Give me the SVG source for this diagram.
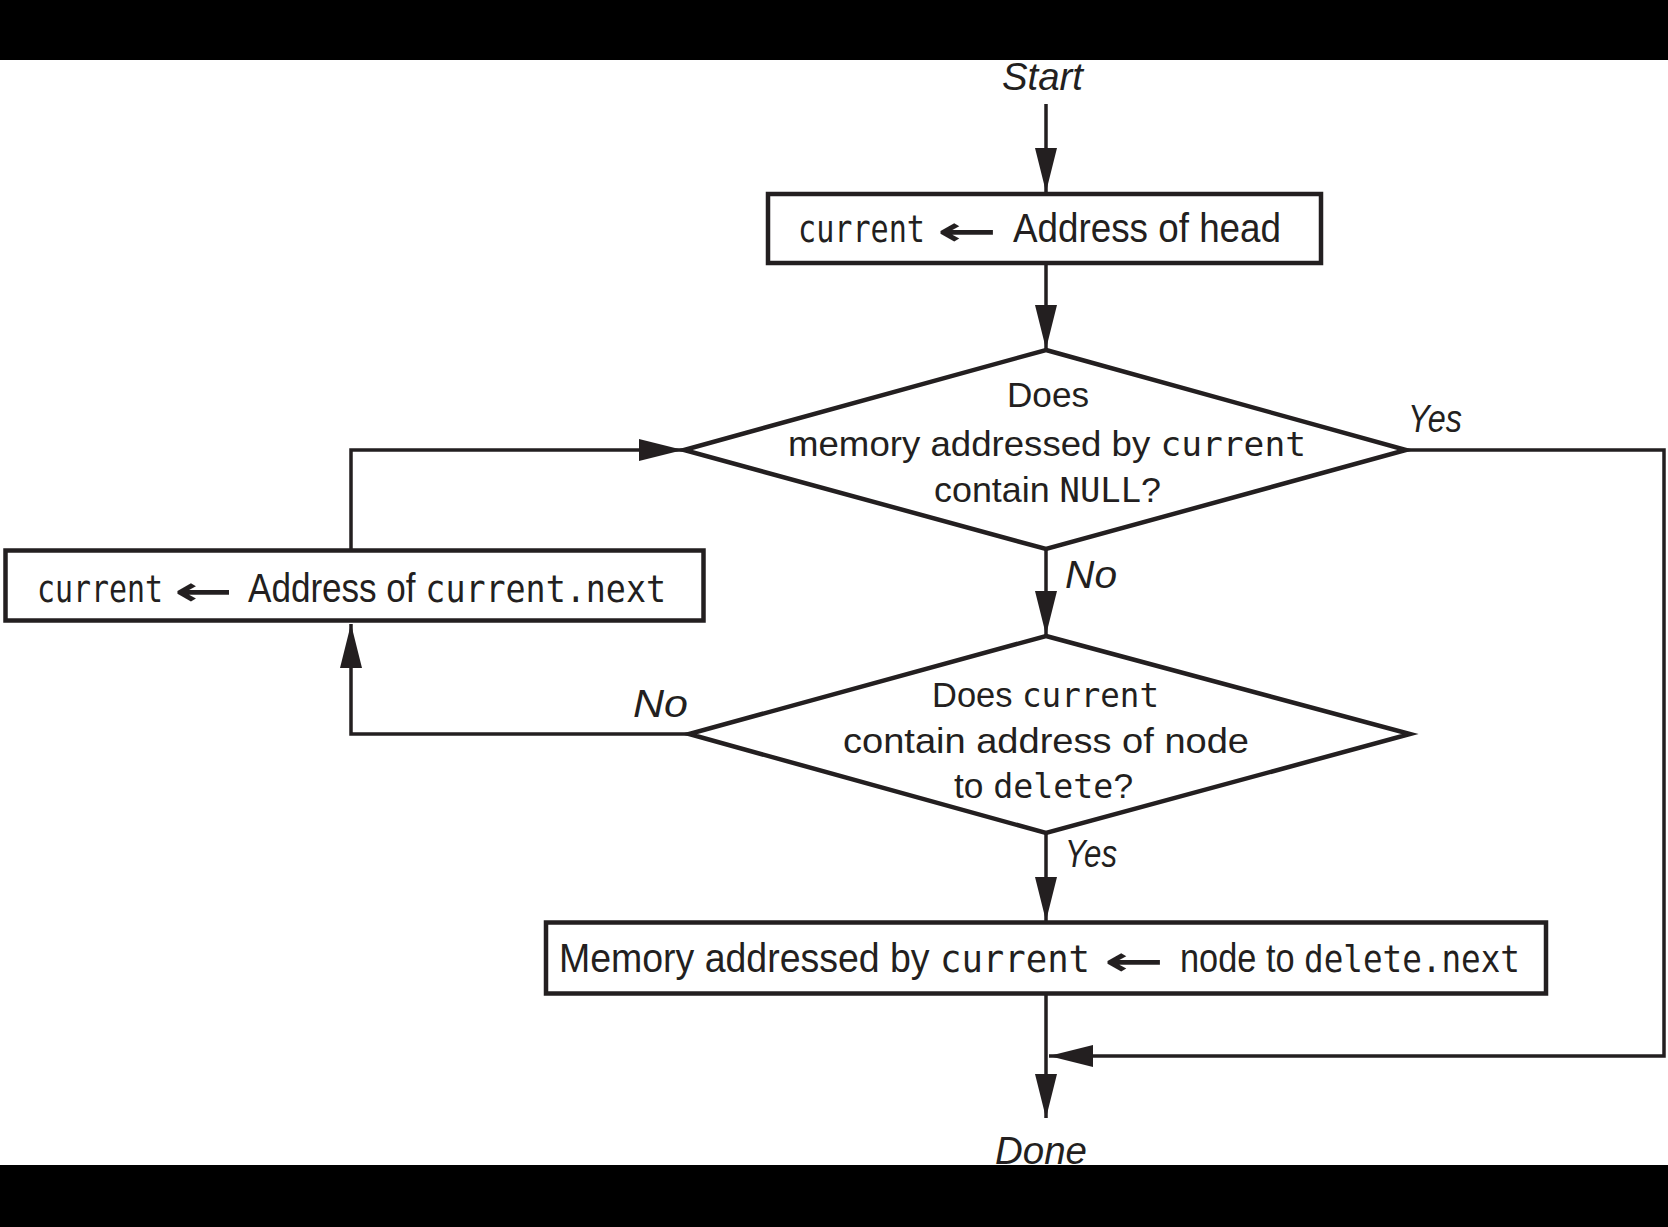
<svg xmlns="http://www.w3.org/2000/svg" width="1668" height="1227" viewBox="0 0 1668 1227">
  <style>
    .shape { fill: #ffffff; stroke: #231f20; stroke-width: 4.5; }
    .conn { fill: none; stroke: #231f20; stroke-width: 3.5; }
    .t { font-family: "Liberation Sans", Arial, sans-serif; fill: #231f20; }
    .box { font-size: 40px; }
    .dia { font-size: 35px; }
    .lbl { font-size: 38px; font-style: italic; }
    .arr { font-family: "DejaVu Sans", sans-serif; font-size: 40px; font-weight: bold; }
    .code { font-family: "DejaVu Sans Mono", "Liberation Mono", monospace; }
    .box .code, .box.code { font-size: 38px; }
    .dia .code { font-size: 33px; }
  </style>
  <defs>
    <marker id="ah" viewBox="0 0 44 22" refX="44" refY="11" markerWidth="44" markerHeight="22" markerUnits="userSpaceOnUse" orient="auto">
      <path d="M0,0 L44,11 L0,22 z" fill="#231f20"/>
    </marker>
  </defs>

  <rect x="0" y="0" width="1668" height="1227" fill="#ffffff"/>

  <g id="connectors">
    <path class="conn" d="M1046,104 L1046,192" marker-end="url(#ah)"/>
    <path class="conn" d="M1046,265 L1046,349" marker-end="url(#ah)"/>
    <path class="conn" d="M1046,549 L1046,635" marker-end="url(#ah)"/>
    <path class="conn" d="M1046,833 L1046,921" marker-end="url(#ah)"/>
    <path class="conn" d="M1046,994 L1046,1118" marker-end="url(#ah)"/>
    <path class="conn" d="M689,734 L351,734 L351,624" marker-end="url(#ah)"/>
    <path class="conn" d="M351,549 L351,450 L683,450" marker-end="url(#ah)"/>
    <path class="conn" d="M1406,450 L1664,450 L1664,1056 L1049,1056" marker-end="url(#ah)"/>
  </g>

  <g id="labels">
    <text class="t lbl" x="1408" y="432" textLength="54" lengthAdjust="spacingAndGlyphs">Yes</text>
    <text class="t lbl" x="1065" y="588" textLength="52" lengthAdjust="spacingAndGlyphs">No</text>
    <text class="t lbl" x="633" y="717" textLength="55" lengthAdjust="spacingAndGlyphs">No</text>
    <text class="t lbl" x="1065" y="867" textLength="52" lengthAdjust="spacingAndGlyphs">Yes</text>
  </g>

  <g id="start">
    <text class="t lbl" x="1002" y="90" textLength="81" lengthAdjust="spacingAndGlyphs">Start</text>
  </g>

  <g id="box1">
    <rect class="shape" x="768" y="194" width="553" height="69"/>
    <text class="t box code" x="798" y="242" textLength="127" lengthAdjust="spacingAndGlyphs">current</text>
    <text class="t arr" x="937" y="245" textLength="60" lengthAdjust="spacingAndGlyphs">←</text>
    <text class="t box" x="1013" y="242" textLength="268" lengthAdjust="spacingAndGlyphs">Address of head</text>
  </g>

  <g id="decision1">
    <polygon class="shape" points="1046,350 1406,450 1046,549 684,450"/>
    <text class="t dia" x="1007" y="407" textLength="82" lengthAdjust="spacingAndGlyphs">Does</text>
    <text class="t dia" x="788" y="456" textLength="518" lengthAdjust="spacingAndGlyphs">memory addressed by <tspan class="code">current</tspan></text>
    <text class="t dia" x="934" y="502" textLength="227" lengthAdjust="spacingAndGlyphs">contain <tspan class="code">NULL</tspan>?</text>
  </g>

  <g id="box2">
    <rect class="shape" x="5.5" y="550.5" width="698" height="70"/>
    <text class="t box code" x="37" y="602" textLength="126" lengthAdjust="spacingAndGlyphs">current</text>
    <text class="t arr" x="174" y="605" textLength="59" lengthAdjust="spacingAndGlyphs">←</text>
    <text class="t box" x="248" y="602" textLength="418" lengthAdjust="spacingAndGlyphs">Address of <tspan class="code">current.next</tspan></text>
  </g>

  <g id="decision2">
    <polygon class="shape" points="1046,636 1410,734 1046,833 689,734"/>
    <text class="t dia" x="932" y="707" textLength="227" lengthAdjust="spacingAndGlyphs">Does <tspan class="code">current</tspan></text>
    <text class="t dia" x="843" y="753" textLength="406" lengthAdjust="spacingAndGlyphs">contain address of node</text>
    <text class="t dia" x="954" y="798" textLength="179" lengthAdjust="spacingAndGlyphs">to <tspan class="code">delete</tspan>?</text>
  </g>

  <g id="box3">
    <rect class="shape" x="546" y="922.5" width="1000" height="71"/>
    <text class="t box" x="559" y="972" textLength="531" lengthAdjust="spacingAndGlyphs">Memory addressed by <tspan class="code">current</tspan></text>
    <text class="t arr" x="1104" y="975" textLength="60" lengthAdjust="spacingAndGlyphs">←</text>
    <text class="t box" x="1180" y="972" textLength="340" lengthAdjust="spacingAndGlyphs">node to <tspan class="code">delete.next</tspan></text>
  </g>

  <g id="done">
    <text class="t lbl" x="995" y="1164" textLength="92" lengthAdjust="spacingAndGlyphs">Done</text>
  </g>

  <rect x="0" y="0" width="1668" height="60" fill="#000000"/>
  <rect x="0" y="1165" width="1668" height="62" fill="#000000"/>
</svg>
